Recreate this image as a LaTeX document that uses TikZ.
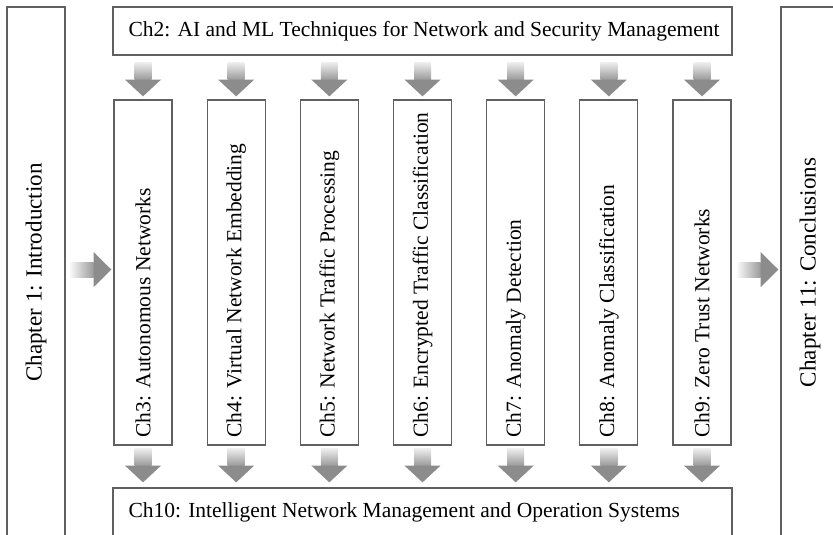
\documentclass[tikz,border=0pt]{standalone}
\usepackage{fontspec}
\setmainfont{Liberation Serif}
\usetikzlibrary{calc}

\definecolor{linegray}{HTML}{606060}
\definecolor{headgray}{HTML}{8C8C8C}
\definecolor{shaftlight}{HTML}{EDEDED}
\definecolor{shaftdark}{HTML}{9A9A9A}

\begin{document}
\begin{tikzpicture}[
font=\fontsize{15.3}{18}\selectfont,
box/.style={draw=linegray,line width=0.9pt,inner sep=0pt,fill=white},
side/.style={box,minimum width=1.45cm,minimum height=13.275cm,font=\fontsize{16.4}{19}\selectfont},
chap/.style={box,minimum width=1.45cm,minimum height=8.625cm},
wide/.style={box,minimum width=15.475cm,minimum height=1.2cm}]

\useasboundingbox (0,0) rectangle (20.825,-13.375);
\clip (0,0) rectangle (20.825,-13.375);

\node[side] (intro) at (0.9,-6.8125) {\rotatebox{90}{Chapter 1: Introduction}};

\node[side] (concl) at (20.25,-6.8125) {\rotatebox{90}{Chapter 11: Conclusions}};

\node[wide] (ch2) at (10.5625,-0.775) {\makebox[14.7cm][l]{Ch2: AI and ML Techniques for Network and Security Management}};

\node[wide] (ch10) at (10.5625,-12.8) {\makebox[14.7cm][l]{Ch10: Intelligent Network Management and Operation Systems}};

\node[chap] (ch3) at (3.575,-6.8125) {\rotatebox{90}{\makebox[8.25cm][l]{Ch3: Autonomous Networks}}};

\node[chap] (ch4) at (5.904,-6.8125) {\rotatebox{90}{\makebox[8.25cm][l]{Ch4: Virtual Network Embedding}}};

\node[chap] (ch5) at (8.233,-6.8125) {\rotatebox{90}{\makebox[8.25cm][l]{Ch5: Network Traffic Processing}}};

\node[chap] (ch6) at (10.5625,-6.8125) {\rotatebox{90}{\makebox[8.25cm][l]{Ch6: Encrypted Traffic Classification}}};

\node[chap] (ch7) at (12.892,-6.8125) {\rotatebox{90}{\makebox[8.25cm][l]{Ch7: Anomaly Detection}}};

\node[chap] (ch8) at (15.221,-6.8125) {\rotatebox{90}{\makebox[8.25cm][l]{Ch8: Anomaly Classification}}};

\node[chap] (ch9) at (17.55,-6.8125) {\rotatebox{90}{\makebox[8.25cm][l]{Ch9: Zero Trust Networks}}};

% arrows from ch2 down to the chapters, and from the chapters down to ch10
\foreach \i in {3,...,9}{
\shade[top color=shaftlight,bottom color=shaftdark] ($(ch2.south -| ch\i)+(-0.2125,-0.175)$) rectangle ($(ch2.south -| ch\i)+(0.2125,-0.6)$);
\fill[headgray] ($(ch2.south -| ch\i)+(-0.45,-0.6)$) -- ($(ch2.south -| ch\i)+(0.45,-0.6)$) -- ($(ch\i.north)+(0,0.075)$) -- cycle;
\shade[top color=shaftlight,bottom color=shaftdark] ($(ch\i.south)+(-0.2125,-0.075)$) rectangle ($(ch\i.south)+(0.2125,-0.5)$);
\fill[headgray] ($(ch\i.south)+(-0.45,-0.5)$) -- ($(ch\i.south)+(0.45,-0.5)$) -- ($(ch10.north -| ch\i)+(0,0.125)$) -- cycle;
}

% side arrows
\shade[left color=white,right color=shaftdark] ($(intro.east |- 0,-6.74)+(0.075,0.1875)$) rectangle ($(intro.east |- 0,-6.74)+(0.7,-0.1875)$);
\fill[headgray] ($(intro.east |- 0,-6.74)+(0.7,0.4375)$) -- ($(intro.east |- 0,-6.74)+(0.7,-0.4375)$) -- ($(ch3.west |- 0,-6.74)+(-0.05,0)$) -- cycle;

\shade[left color=white,right color=shaftdark] ($(ch9.east |- 0,-6.74)+(0.1,0.1875)$) rectangle ($(ch9.east |- 0,-6.74)+(0.725,-0.1875)$);
\fill[headgray] ($(ch9.east |- 0,-6.74)+(0.725,0.4375)$) -- ($(ch9.east |- 0,-6.74)+(0.725,-0.4375)$) -- ($(concl.west |- 0,-6.74)+(-0.05,0)$) -- cycle;

\end{tikzpicture}
\end{document}
